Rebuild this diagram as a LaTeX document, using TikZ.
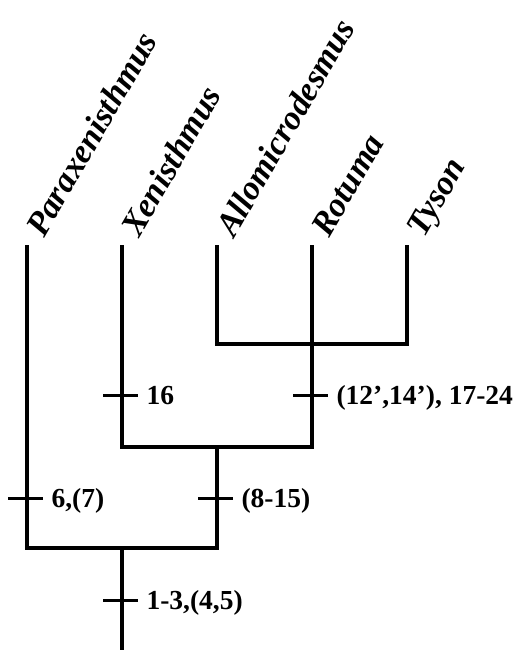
\documentclass[tikz,border=0pt]{standalone}
\usepackage{fontspec}
\setmainfont{Liberation Serif}

\begin{document}
\begin{tikzpicture}[
            x=1pt, y=-1pt,
            branch/.style={line width=4.5pt, line join=miter},
            tick/.style={line width=3pt},
            taxon/.style={rotate=60, anchor=base west, inner sep=0pt, font=\fontsize{34}{34}\selectfont\bfseries\itshape},
            char/.style={anchor=base west, inner sep=0pt, xshift=7pt, yshift=-9pt, font=\fontsize{27.5}{27.5}\selectfont\bfseries}
        ]
            \useasboundingbox (0,0) rectangle (519,653);

            % Tips
            \coordinate (par) at (27,245);
            \coordinate (xen) at (122,245);
            \coordinate (all) at (217,245);
            \coordinate (rot) at (312,245);
            \coordinate (tys) at (407,245);

            % Internal nodes
            \coordinate (nA) at (312,344);
            \coordinate (nB) at (217,447);
            \coordinate (nC) at (122,548);
            \coordinate (root) at (122,650);

            % Taxa
            \node[taxon] (parlab) at ([xshift=17pt,yshift=6pt]par) {Paraxenisthmus};
            \node[taxon] (xenlab) at ([xshift=17pt,yshift=6pt]xen) {Xenisthmus};
            \node[taxon] (alllab) at ([xshift=17pt,yshift=6pt]all) {Allomicrodesmus};
            \node[taxon] (rotlab) at ([xshift=17pt,yshift=6pt]rot) {Rotuma};
            \node[taxon] (tyslab) at ([xshift=17pt,yshift=6pt]tys) {Tyson};

            % Branches
            \draw[branch] (all) |- (nA) -| (tys);
            \draw[branch] (xen) |- (nB) -| (rot);
            \draw[branch] (par) |- (nC) -| (nB);
            \draw[branch] (nC) -- (root);

            % Characters
            \coordinate (t1) at (27,498);
            \coordinate (t2) at (122,395);
            \coordinate (t3) at (312,395);
            \coordinate (t4) at (217,498);
            \coordinate (t5) at (122,600);
            \draw[tick] ([xshift=-19pt]t1) -- ([xshift=16pt]t1) node[char] (c1) {6,(7)};
            \draw[tick] ([xshift=-19pt]t2) -- ([xshift=16pt]t2) node[char] (c2) {16};
            \draw[tick] ([xshift=-19pt]t3) -- ([xshift=16pt]t3) node[char] (c3) {(12’,14’), 17-24};
            \draw[tick] ([xshift=-19pt]t4) -- ([xshift=16pt]t4) node[char] (c4) {(8-15)};
            \draw[tick] ([xshift=-19pt]t5) -- ([xshift=16pt]t5) node[char] (c5) {1-3,(4,5)};
        \end{tikzpicture}
\end{document}
